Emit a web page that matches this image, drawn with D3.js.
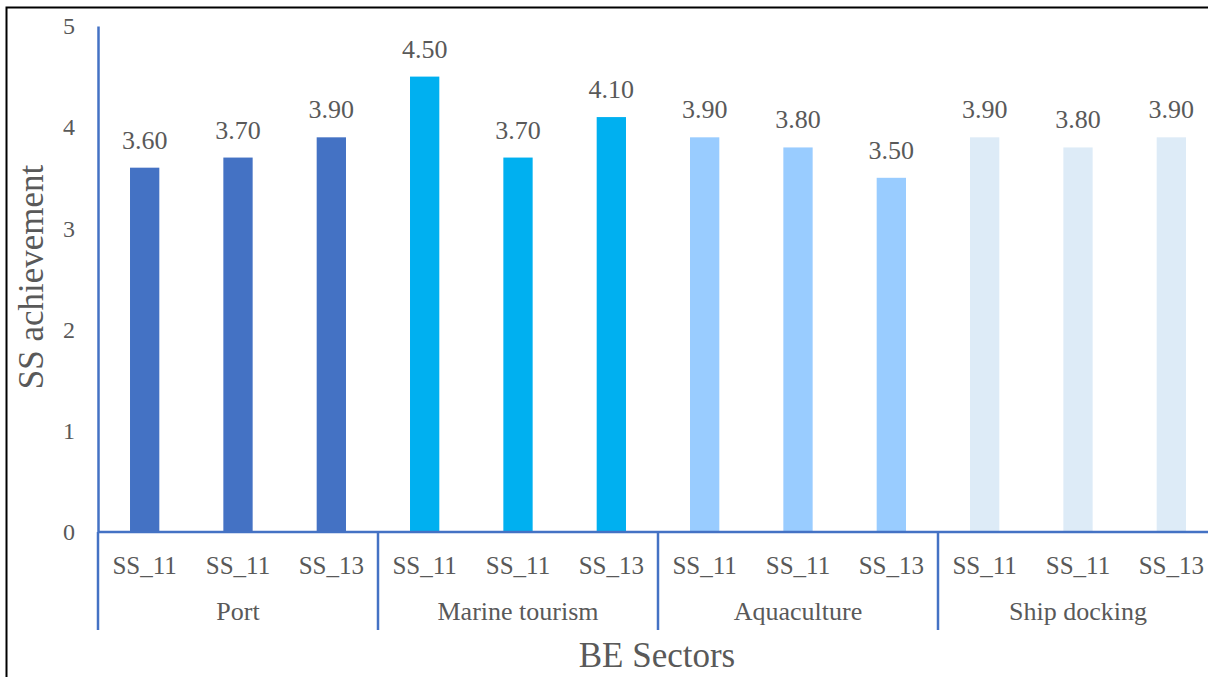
<!DOCTYPE html>
<html>
<head>
<meta charset="utf-8">
<script src="https://cdn.jsdelivr.net/npm/d3@7"></script>
<style>
  html, body { margin: 0; padding: 0; background: #fff; }
  svg { display: block; }
</style>
</head>
<body>
<svg id="chart" width="1208" height="677"></svg>
<script>
const sectors = ["Port", "Marine tourism", "Aquaculture", "Ship docking"];
const items = ["SS_11", "SS_11", "SS_13"];
const portValues = [3.6, 3.7, 3.9];
const marineValues = [4.5, 3.7, 4.1];
const aquaValues = [3.9, 3.8, 3.5];
const shipValues = [3.9, 3.8, 3.9];
const yTicks = [0, 1, 2, 3, 4, 5];
const sectorColors = ["#4472C4", "#00B0F0", "#99CCFF", "#DDEBF7"];

const seriesValues = [portValues, marineValues, aquaValues, shipValues];
const data = [];
sectors.forEach((s, i) => {
  items.forEach((it, j) => {
    data.push({ sector: s, item: it, idx: j, value: seriesValues[i][j], color: sectorColors[i] });
  });
});

const svg = d3.select("#chart");
const axisColor = "#4472C4";
const textColor = "#595959";
const left = 98, right = 1218, baseY = 532, topY = 26;
const serif = "'Liberation Serif', 'DejaVu Serif', Tinos, 'Times New Roman', Times, serif";

function styleText(sel, size) {
  return sel.style("font-family", serif).style("font-size", size + "px").style("fill", textColor);
}

// outer border (left and top)
svg.append("path")
  .attr("d", `M6.5,677 L6.5,7.5 L1208,7.5`)
  .attr("fill", "none").attr("stroke", "#000").attr("stroke-width", 2);

const x0 = d3.scaleBand().domain(sectors).range([left, right]).padding(0);
const x1 = d3.scaleBand().domain([0, 1, 2]).range([0, x0.bandwidth()])
  .paddingInner(0.686).paddingOuter(0.343);
const y = d3.scaleLinear().domain([0, 5]).range([baseY, topY]);

// y axis
const yAxis = svg.append("g")
  .attr("transform", `translate(${left},0)`)
  .call(d3.axisLeft(y).tickValues(yTicks).tickFormat(d3.format("d"))
    .tickSizeInner(0).tickSizeOuter(0).tickPadding(23));
yAxis.attr("font-family", null).attr("font-size", null);
yAxis.select(".domain").attr("stroke", axisColor).attr("stroke-width", 2.5);
styleText(yAxis.selectAll("text"), 24);

// bars
svg.append("g").selectAll("rect").data(data).join("rect")
  .attr("x", d => x0(d.sector) + x1(d.idx))
  .attr("width", x1.bandwidth())
  .attr("y", d => y(d.value))
  .attr("height", d => y(0) - y(d.value))
  .attr("fill", d => d.color);

// value labels
styleText(svg.append("g").selectAll("text").data(data).join("text")
  .attr("x", d => x0(d.sector) + x1(d.idx) + x1.bandwidth() / 2)
  .attr("y", d => y(d.value) - 19)
  .attr("text-anchor", "middle")
  .text(d => d3.format(".2f")(d.value)), 26);

// x axis line
svg.append("line")
  .attr("x1", left).attr("x2", right)
  .attr("y1", baseY).attr("y2", baseY)
  .attr("stroke", axisColor).attr("stroke-width", 2.5);

// group separators
const seps = sectors.map(s => x0(s)).concat([x0.range()[1]]);
svg.append("g").selectAll("line").data(seps).join("line")
  .attr("x1", d => d).attr("x2", d => d)
  .attr("y1", baseY).attr("y2", 630)
  .attr("stroke", axisColor).attr("stroke-width", 2.5);

// item labels
styleText(svg.append("g").selectAll("text").data(data).join("text")
  .attr("x", d => x0(d.sector) + x1(d.idx) + x1.bandwidth() / 2)
  .attr("y", 574)
  .attr("text-anchor", "middle")
  .text(d => d.item), 25);

// sector labels
styleText(svg.append("g").selectAll("text").data(sectors).join("text")
  .attr("x", d => x0(d) + x0.bandwidth() / 2)
  .attr("y", 620)
  .attr("text-anchor", "middle")
  .text(d => d), 26);

// axis titles
styleText(svg.append("text")
  .attr("x", (left + right) / 2 - 1)
  .attr("y", 667)
  .attr("text-anchor", "middle")
  .text("BE Sectors"), 35);

styleText(svg.append("text")
  .attr("transform", `translate(43,277) rotate(-90)`)
  .attr("text-anchor", "middle")
  .text("SS achievement"), 35);
</script>
</body>
</html>
